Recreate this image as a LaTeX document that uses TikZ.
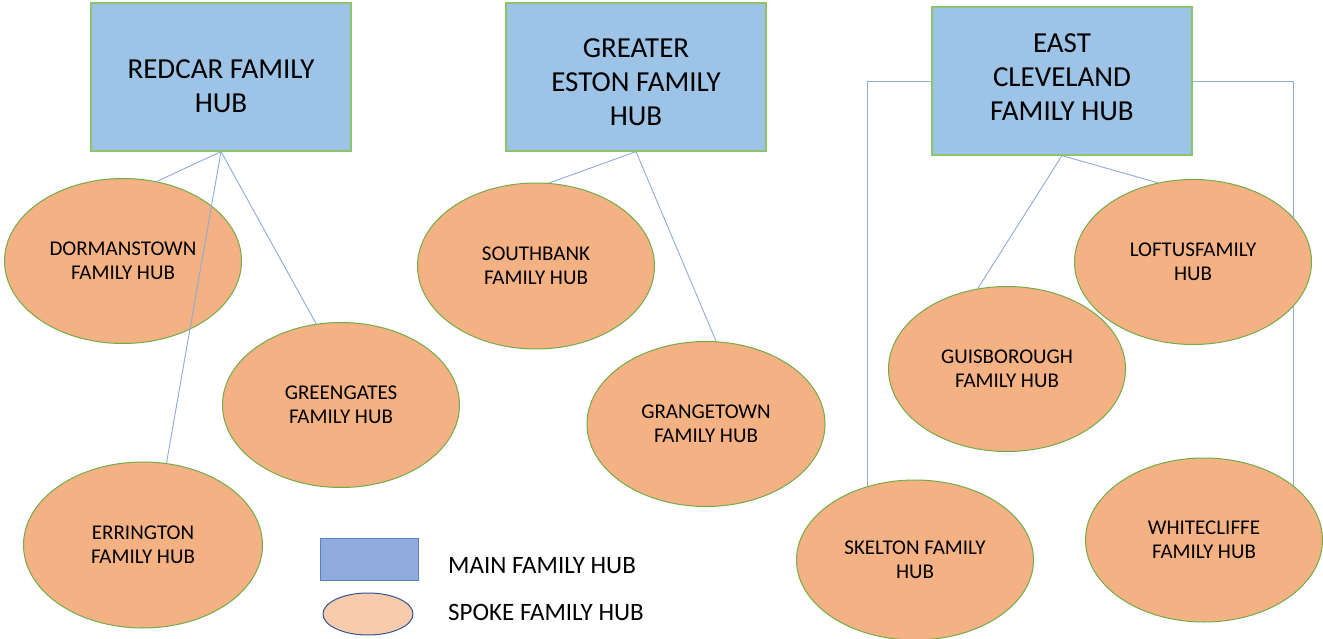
\documentclass[tikz,border=0pt]{standalone}
\usepackage{fontspec}
\setmainfont{Carlito}
\usetikzlibrary{shapes.geometric}
\definecolor{boxblue}{HTML}{9DC3E6}
\definecolor{boxgreen}{HTML}{8CC46A}
\definecolor{ellorange}{HTML}{F4B183}
\definecolor{ellgreen}{HTML}{70AD47}
\definecolor{linkblue}{HTML}{8EA9DB}
\definecolor{legblue}{HTML}{8FAADC}
\definecolor{legblueline}{HTML}{5B7FC0}
\definecolor{legorange}{HTML}{F8CBAD}
\definecolor{legorangeline}{HTML}{2F5597}
\pgfdeclarelayer{background}
\pgfsetlayers{background,main}
\tikzset{
  mainbox/.style={draw=boxgreen, fill=boxblue, line width=1.2pt, minimum width=260pt,
    minimum height=148pt, inner sep=0pt},
  maintext/.style={align=center, inner sep=0pt, font=\fontsize{29}{34}\selectfont},
  spoke/.style={ellipse, draw=ellgreen, fill=ellorange, line width=1pt, minimum width=237pt,
    minimum height=165pt, align=center, inner sep=0pt, font=\fontsize{21}{24}\selectfont},
  link/.style={draw=linkblue, line width=0.9pt},
  legtext/.style={anchor=west, inner sep=0pt, font=\fontsize{25}{29}\selectfont}
}
\begin{document}
\begin{tikzpicture}[x=1pt,y=-1pt]
\useasboundingbox (0,0) rectangle (1323,639);
% main hubs
\node[mainbox] (redcar) at (221,77) {};
\node[maintext] (redcartext) at (221,86) {REDCAR FAMILY\\HUB};
\node[mainbox] (eston) at (636,77) {};
\node[maintext] (estontext) at (636,82) {GREATER\\ESTON FAMILY\\HUB};
\node[mainbox] (east) at (1062,81) {};
\node[maintext] (easttext) at (1062,77) {EAST\\CLEVELAND\\FAMILY HUB};
% spokes
\node[spoke] (dorm) at (123,261) {DORMANSTOWN\\FAMILY HUB};
\node[spoke] (green) at (341,405) {GREENGATES\\FAMILY HUB};
\node[spoke, minimum width=239pt, minimum height=166pt] (err) at (143,545) {ERRINGTON\\FAMILY HUB};
\node[spoke, minimum height=166pt] (south) at (536,266) {SOUTHBANK\\FAMILY HUB};
\node[spoke, minimum width=238pt] (grange) at (706,424) {GRANGETOWN\\FAMILY HUB};
\node[spoke] (guis) at (1007,369) {GUISBOROUGH\\FAMILY HUB};
\node[spoke] (loft) at (1193,262) {LOFTUSFAMILY\\HUB};
\node[spoke, minimum height=160pt] (skel) at (915,560) {SKELTON FAMILY\\HUB};
\node[spoke, minimum height=164pt] (white) at (1204,540) {WHITECLIFFE\\FAMILY HUB};
% connectors
\begin{pgfonlayer}{background}
\draw[link] (redcar.south) -- (dorm.67);
\draw[link] (redcar.south) -- (green.107);
\draw[link] (eston.south) -- (south.81);
\draw[link] (eston.south) -- (grange.83);
\draw[link] (east.south) -- (guis.110);
\draw[link] (east.south) -- (loft.114);
\draw[link] (east.west) -| (skel.123);
\draw[link] (east.east) -| (white.31);
\end{pgfonlayer}
\draw[link] (redcar.south) -- (err.74);
% legend
\node[draw=legblueline, fill=legblue, line width=1pt, minimum width=98pt, minimum height=42pt, inner sep=0pt] (legmain) at (369,559) {};
\node[ellipse, draw=legorangeline, fill=legorange, line width=1pt, minimum width=90pt, minimum height=42pt, inner sep=0pt] (legspoke) at (368,614) {};
\node[legtext] (legmaintext) at (448,566) {MAIN FAMILY HUB};
\node[legtext] (legspoketext) at (448,612) {SPOKE FAMILY HUB};
\end{tikzpicture}
\end{document}
